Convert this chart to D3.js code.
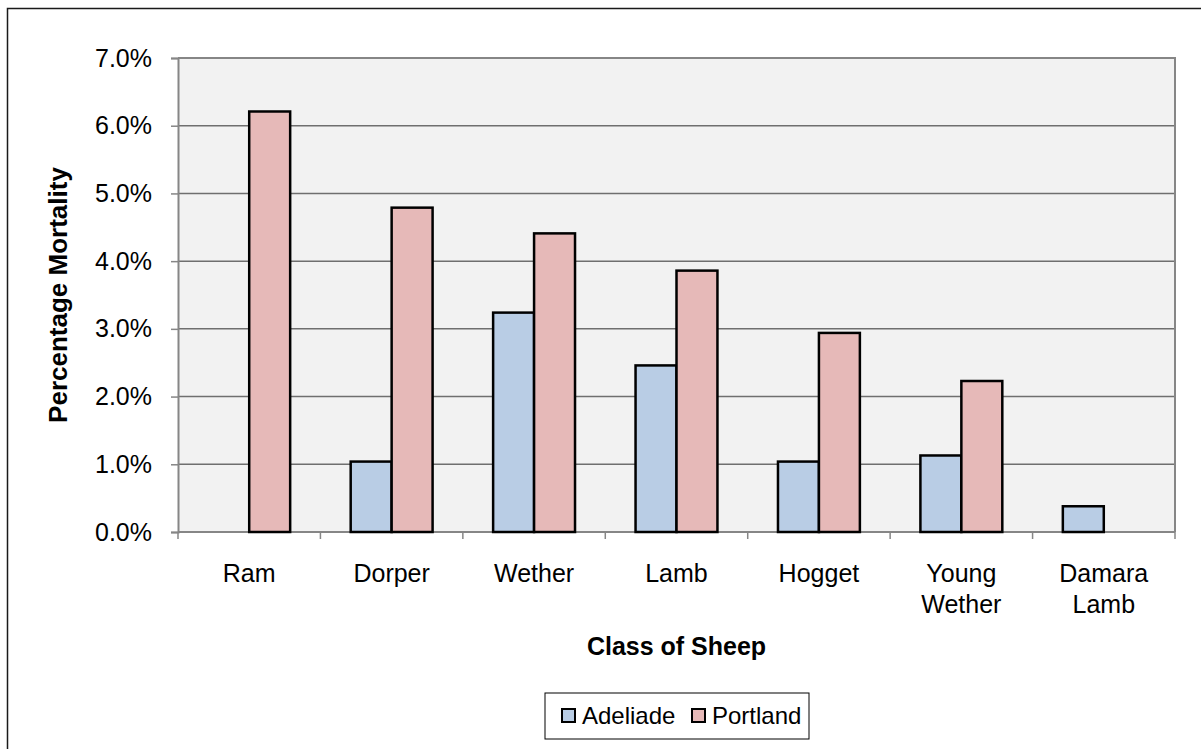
<!DOCTYPE html>
<html>
<head>
<meta charset="utf-8">
<script src="https://cdn.jsdelivr.net/npm/d3@7"></script>
<style>
  html, body { margin: 0; padding: 0; background: #fff; }
  svg { display: block; font-family: "Liberation Sans", Arial, sans-serif; }
</style>
</head>
<body>
<svg id="chart" width="1201" height="749"></svg>
<script>
// Sheep classes (label lines) and mortality per port, in percent
const categories = [["Ram"], ["Dorper"], ["Wether"], ["Lamb"], ["Hogget"], ["Young", "Wether"], ["Damara", "Lamb"]];
const seriesNames = ["Adeliade", "Portland"];
const adeliade = [null, 1.04, 3.24, 2.46, 1.04, 1.13, 0.38];
const portland = [6.21, 4.79, 4.41, 3.86, 2.94, 2.23, null];
const yTicks = [0, 1, 2, 3, 4, 5, 6, 7];
const colors = ["#B9CDE5", "#E6B9B8"];

const svg = d3.select("#chart");
const plot = { left: 178, right: 1175, top: 58, bottom: 532 };

// Outer chart frame (runs off the right and bottom edges)
svg.append("rect")
  .attr("x", 7.5).attr("y", 8.5)
  .attr("width", 1240).attr("height", 800)
  .attr("fill", "#fff").attr("stroke", "#1a1a1a").attr("stroke-width", 1.5);

const catKeys = categories.map(c => c.join(" "));
const x0 = d3.scaleBand().domain(catKeys).range([plot.left, plot.right])
  .paddingInner(0.425).paddingOuter(0.2125);
const x1 = d3.scaleBand().domain(seriesNames).range([0, x0.bandwidth()]).padding(0);
const y = d3.scaleLinear().domain([0, 7]).range([plot.bottom, plot.top]);

// Plot area background
svg.append("rect")
  .attr("x", plot.left).attr("y", plot.top)
  .attr("width", plot.right - plot.left).attr("height", plot.bottom - plot.top)
  .attr("fill", "#F2F2F2");

// Horizontal gridlines
svg.append("g")
  .selectAll("line").data(yTicks.slice(1)).join("line")
  .attr("x1", plot.left).attr("x2", plot.right)
  .attr("y1", d => y(d)).attr("y2", d => y(d))
  .attr("stroke", "#6f6f6f").attr("stroke-width", 1.5);

// Plot area border (top and right)
svg.append("path")
  .attr("d", `M${plot.left},${plot.top}H${plot.right}V${plot.bottom}`)
  .attr("fill", "none").attr("stroke", "#868686").attr("stroke-width", 2);

// Y axis
const yAxis = d3.axisLeft(y).tickValues(yTicks).tickSize(7).tickPadding(19)
  .tickFormat(d => d.toFixed(1) + "%");
const gy = svg.append("g").attr("transform", `translate(${plot.left},0)`).call(yAxis);
gy.select(".domain").attr("stroke", "#868686").attr("stroke-width", 2);
gy.selectAll(".tick line").attr("stroke", "#868686").attr("stroke-width", 1.5);
gy.selectAll(".tick text").attr("font-size", 25).attr("fill", "#000")
  .attr("font-family", "'Liberation Sans', Arial, sans-serif");

// X axis line with ticks at category boundaries
const step = x0.step();
const boundaries = d3.range(categories.length + 1).map(i => plot.left + i * step);
svg.append("line")
  .attr("x1", plot.left).attr("x2", plot.right)
  .attr("y1", plot.bottom).attr("y2", plot.bottom)
  .attr("stroke", "#868686").attr("stroke-width", 2);
svg.append("g").selectAll("line").data(boundaries).join("line")
  .attr("x1", d => d).attr("x2", d => d)
  .attr("y1", plot.bottom).attr("y2", plot.bottom + 7)
  .attr("stroke", "#868686").attr("stroke-width", 1.5);

// Category labels
const catG = svg.append("g");
categories.forEach((lines, i) => {
  const cx = x0(catKeys[i]) + x0.bandwidth() / 2;
  const t = catG.append("text")
    .attr("x", cx).attr("y", 582)
    .attr("text-anchor", "middle")
    .attr("font-size", 25).attr("fill", "#000");
  lines.forEach((ln, j) => {
    t.append("tspan").attr("x", cx).attr("dy", j === 0 ? 0 : 31).text(ln);
  });
});

// Bars
const values = [adeliade, portland];
const barData = [];
catKeys.forEach((k, i) => {
  seriesNames.forEach((s, j) => {
    if (values[j][i] != null) barData.push({ cat: k, series: s, value: values[j][i], color: colors[j] });
  });
});
svg.append("g").selectAll("rect").data(barData).join("rect")
  .attr("x", d => x0(d.cat) + x1(d.series))
  .attr("y", d => y(d.value))
  .attr("width", x1.bandwidth())
  .attr("height", d => y(0) - y(d.value))
  .attr("fill", d => d.color)
  .attr("stroke", "#000").attr("stroke-width", 2.5);

// Axis titles
svg.append("text")
  .attr("x", (plot.left + plot.right) / 2).attr("y", 655)
  .attr("text-anchor", "middle").attr("font-size", 25).attr("font-weight", "bold")
  .text("Class of Sheep");
svg.append("text")
  .attr("transform", `translate(67,${(plot.top + plot.bottom) / 2}) rotate(-90)`)
  .attr("text-anchor", "middle").attr("font-size", 26).attr("font-weight", "bold")
  .text("Percentage Mortality");

// Legend
const legend = svg.append("g");
legend.append("rect")
  .attr("x", 545).attr("y", 693).attr("width", 264).attr("height", 46)
  .attr("fill", "#fff").attr("stroke", "#000").attr("stroke-width", 1);
const legendX = [562, 692];
seriesNames.forEach((s, i) => {
  legend.append("rect")
    .attr("x", legendX[i]).attr("y", 709).attr("width", 13).attr("height", 13)
    .attr("fill", colors[i]).attr("stroke", "#000").attr("stroke-width", 2);
  legend.append("text")
    .attr("x", legendX[i] + 20).attr("y", 724)
    .attr("font-size", 24).attr("fill", "#000")
    .text(s);
});
</script>
</body>
</html>
